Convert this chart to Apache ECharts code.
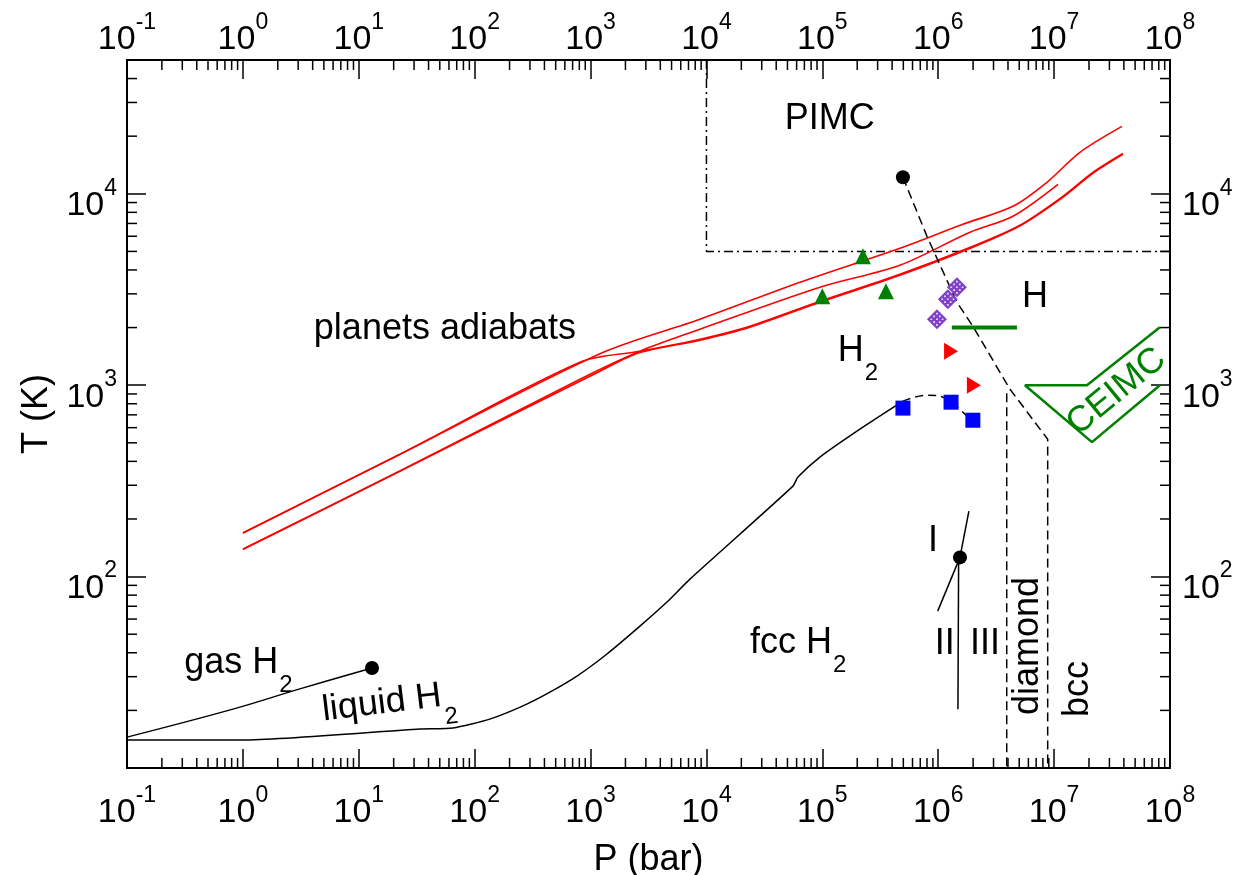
<!DOCTYPE html>
<html>
<head>
<meta charset="utf-8">
<script src="https://cdn.jsdelivr.net/npm/echarts@6/dist/echarts.min.js"></script>
<style>
html, body { margin: 0; padding: 0; background: #fff; }
#chart { width: 1237px; height: 875px; }
</style>
</head>
<body>
<div id="chart"></div>
<script>
// axis ranges
const pRange = [0.1, 1e8];
const tRange = [10, 5e4];
const decadesP = [-1, 0, 1, 2, 3, 4, 5, 6, 7];
const decadesT = [1, 2, 3, 4];
const minorSteps = [2, 3, 4, 5, 6, 7, 8, 9];

// planet adiabats (P bar, T K)
const adiabatA = [[1, 169], [22.7, 436], [1205, 1460], [8790, 2211], [64100, 3451], [467000, 5193], [1.63e6, 6930], [4.41e6, 8600], [8.67e6, 11480], [1.67e7, 16470], [3.85e7, 22500]];
const adiabatB = [[1, 169], [22.7, 436], [810, 1319], [2670, 1505], [8790, 1739], [23700, 2033], [95400, 2745], [467000, 3798], [1.99e6, 5319], [5.07e6, 6850], [1.19e7, 9700], [2.16e7, 12950], [3.92e7, 16270]];
const adiabatC = [[1, 139], [22.7, 356], [810, 1075], [2670, 1505], [8790, 1960], [95400, 3249], [467000, 4233], [1.88e6, 6295], [4.41e6, 7630], [1.08e7, 11210]];
const adiabatD = [[1, 139], [22.7, 356], [1205, 1183], [2670, 1480], [8790, 1718], [23700, 2009], [95400, 2713], [467000, 3753], [1.99e6, 5256], [5.07e6, 6800], [1.19e7, 9590], [2.16e7, 12800], [3.92e7, 16080]];

// phase boundaries
const meltingLine = [[0.1, 14.0], [1, 14.0], [33.7, 16.0], [65, 16.2], [135, 18.0], [261, 21.1], [446, 24.9], [763, 30.2], [1385, 39.4], [2668, 55.1], [4563, 73.6], [7203, 97], [55760, 297], [61580, 331], [95350, 421], [211000, 589], [496000, 825]];
const meltingGuess = [[496000, 825], [799000, 887], [1.19e6, 845], [2.16e6, 603]];
const gasLiquid = [[0.1, 14.5], [0.82, 20.3], [3.1, 25.9], [13, 33.3]];
const pimcBox = [[1e4, 5e4], [1e4, 5000], [1e8, 5000]];
const molecularAtomic = [[496000, 12200], [799000, 6000], [1.45e6, 2713], [1.99e6, 2033], [4.16e6, 953], [8.8e6, 522], [8.8e6, 10]];
const diamondLeft = [[3.9e6, 908], [3.9e6, 10]];
const lineI = [[1.54e6, 126], [1.84e6, 220]];
const lineII = [[1.54e6, 126], [9.9e5, 66]];
const lineIII = [[1.5e6, 126], [1.48e6, 20.3]];
const ceimcH = [[1.31e6, 2000], [4.78e6, 2000]];
const ceimcBox = [[8.18e7, 2009], [1.92e7, 1000], [5.6e6, 1000], [2.12e7, 504], [8.18e7, 1000]];

// markers
const criticalPoints = [[13, 33.3], [496000, 12200], [1.54e6, 126]];
const greenTriangles = [[1e5, 2916], [2.24e5, 4716], [3.54e5, 3096]];
const purpleDiamonds = [[9.75e5, 2211], [1.21e6, 2812], [1.45e6, 3249]];
const redTriangles = [[1.29e6, 1505], [2.03e6, 1000]];
const blueSquares = [[4.96e5, 759], [1.29e6, 815], [1.99e6, 656]];

// text notes
const noteTexts = ['PIMC', 'planets adiabats', 'H', 'H|2', 'gas H|2', 'liquid H|2', 'fcc H|2', 'I', 'II', 'III', 'diamond', 'bcc', 'CEIMC'];
const notePoints = [[1.16e5, 24480], [55.4, 1961], [6.83e6, 2870], [2.03e5, 1500], [0.916, 35.3], [18.2, 22], [6.2e4, 45], [9e5, 153], [1.14e6, 44.4], [2.53e6, 44.4], [5.94e6, 43.4], [1.6e7, 25.9], [3.45e7, 925]];
const noteAngles = [0, 0, 0, 0, 0, 7, 0, 0, 0, 0, 90, 90, 39.5];

const F = 'Liberation Sans, Arial, Helvetica, sans-serif';
const GREEN = '#008000';
const DOTS = 'path://M1.7,-0.3h0.6v0.6h-0.6z M0.7,0.7h0.6v0.6h-0.6z M2.7,0.7h0.6v0.6h-0.6z M-0.3,1.7h0.6v0.6h-0.6z M1.7,1.7h0.6v0.6h-0.6z M3.7,1.7h0.6v0.6h-0.6z M0.7,2.7h0.6v0.6h-0.6z M2.7,2.7h0.6v0.6h-0.6z M1.7,3.7h0.6v0.6h-0.6z';

const xMinor = [];
decadesP.forEach(d => minorSteps.forEach(m => xMinor.push(m * Math.pow(10, d))));
const yMinor = [];
decadesT.forEach(d => minorSteps.forEach(m => {
	const v = m * Math.pow(10, d);
	if (v < tRange[1]) yMinor.push(v);
}));

const powLabel = (hideMin) => (v) => {
	const e = Math.log10(v);
	const r = Math.round(e);
	if (Math.abs(e - r) > 1e-6) return '';
	if (hideMin && r === 1) return '';
	return '{b|10}{s|' + r + '}';
};
const powRich = {
	b: { fontSize: 34, fontFamily: F, color: '#000', lineHeight: 58 },
	s: { fontSize: 23, fontFamily: F, color: '#000', verticalAlign: 'top', lineHeight: 16 }
};

const axisCommon = {
	type: 'log',
	logBase: 10,
	axisLine: { show: true, onZero: false, lineStyle: { color: '#000', width: 2 } },
	axisTick: { show: true, inside: true, length: 19, interval: 0, lineStyle: { color: '#000', width: 1.5 } },
	splitLine: { show: false },
	minorTick: { show: false },
	minorSplitLine: { show: false }
};

const xAxisBase = Object.assign({}, axisCommon, { min: pRange[0], max: pRange[1], splitNumber: 9 });
const yAxisBase = Object.assign({}, axisCommon, { min: tRange[0], max: tRange[1], splitNumber: 4 });

const lineSeries = (data, color, width, type, smooth) => ({
	type: 'line',
	data: data,
	showSymbol: false,
	symbol: 'none',
	silent: true,
	smooth: smooth || false,
	z: 2,
	lineStyle: { color: color, width: width, type: type || 'solid' }
});

const chart = echarts.init(document.getElementById('chart'));

const noteData = noteTexts.map((t, i) => {
	const parts = t.split('|');
	const text = parts.length > 1 ? '{m|' + parts[0] + '}{s|' + parts[1] + '}' : '{m|' + t + '}';
	const isGreen = t === 'CEIMC';
	return {
		value: notePoints[i],
		label: {
			show: true,
			position: 'inside',
			formatter: text,
			rotate: noteAngles[i],
			rich: {
				m: { fontSize: 36, fontFamily: F, color: isGreen ? GREEN : '#000', lineHeight: 40 },
				s: { fontSize: 24, fontFamily: F, color: '#000', verticalAlign: 'bottom', lineHeight: 68, padding: [0, 0, 0, 1] }
			}
		}
	};
});

const tickSeries = (values, vertical) => ({
	type: 'custom',
	silent: true,
	z: 10,
	data: values.map(v => vertical ? [v, tRange[0]] : [pRange[0], v]),
	renderItem: (params, api) => {
		const v = api.value(vertical ? 0 : 1);
		const style = { stroke: '#000', lineWidth: 1.5 };
		if (vertical) {
			const b = api.coord([v, tRange[0]]);
			const t = api.coord([v, tRange[1]]);
			return { type: 'group', children: [
				{ type: 'line', shape: { x1: b[0], y1: b[1], x2: b[0], y2: b[1] - 10 }, style: style },
				{ type: 'line', shape: { x1: t[0], y1: t[1], x2: t[0], y2: t[1] + 10 }, style: style }
			] };
		}
		const l = api.coord([pRange[0], v]);
		const r = api.coord([pRange[1], v]);
		return { type: 'group', children: [
			{ type: 'line', shape: { x1: l[0], y1: l[1], x2: l[0] + 10, y2: l[1] }, style: style },
			{ type: 'line', shape: { x1: r[0], y1: r[1], x2: r[0] - 10, y2: r[1] }, style: style }
		] };
	}
});

const option = {
	animation: false,
	backgroundColor: '#fff',
	grid: { left: 127, top: 60, width: 1043, height: 708, containLabel: false, outerBoundsMode: 'none' },
	xAxis: [
		Object.assign({}, xAxisBase, {
			position: 'bottom',
			name: 'P (bar)',
			nameLocation: 'middle',
			nameGap: 74,
			nameTextStyle: { fontSize: 36, fontFamily: F, color: '#000' },
			axisLabel: { interval: 0, margin: 16, formatter: powLabel(false), rich: powRich }
		}),
		Object.assign({}, xAxisBase, {
			position: 'top',
			axisLabel: { interval: 0, margin: -9, formatter: powLabel(false), rich: powRich }
		})
	],
	yAxis: [
		Object.assign({}, yAxisBase, {
			position: 'left',
			name: 'T (K)',
			nameLocation: 'middle',
			nameGap: 72,
			nameTextStyle: { fontSize: 36, fontFamily: F, color: '#000' },
			axisLabel: { interval: 0, margin: 10, padding: [24, 0, 0, 0], formatter: powLabel(true), rich: powRich }
		}),
		Object.assign({}, yAxisBase, {
			position: 'right',
			axisLabel: { interval: 0, margin: 12, padding: [24, 0, 0, 0], formatter: powLabel(true), rich: powRich }
		})
	],
	series: [
		lineSeries(pimcBox, '#000', 1.5, [9, 4, 2, 4]),
		lineSeries(adiabatA, '#ff0000', 1.6, null, 0.3),
		lineSeries(adiabatB, '#ff0000', 1.6, null, 0.3),
		lineSeries(adiabatC, '#ff0000', 1.6, null, 0.3),
		lineSeries(adiabatD, '#ff0000', 1.6, null, 0.3),
		lineSeries(meltingLine, '#000', 1.5, null, 0.2),
		lineSeries(meltingGuess, '#000', 1.5, [8, 5], 0.4),
		lineSeries(gasLiquid, '#000', 1.5, null, 0.4),
		lineSeries(molecularAtomic, '#000', 1.5, [9, 5]),
		lineSeries(diamondLeft, '#000', 1.5, [9, 5]),
		lineSeries(lineI, '#000', 1.5),
		lineSeries(lineII, '#000', 1.5),
		lineSeries(lineIII, '#000', 1.5),
		lineSeries(ceimcH, GREEN, 4),
		lineSeries(ceimcBox, GREEN, 2.5),
		{
			type: 'scatter', data: greenTriangles, symbol: 'triangle', symbolSize: 16, z: 5,
			itemStyle: { color: GREEN, opacity: 1 }
		},
		{
			type: 'scatter', data: purpleDiamonds, symbol: 'diamond', symbolSize: 20, z: 5,
			itemStyle: { color: '#8040c8', opacity: 1 }
		},
		{
			type: 'scatter', data: purpleDiamonds, symbol: DOTS, symbolSize: 13, z: 6, silent: true,
			itemStyle: { color: '#ffffff', opacity: 0.85 }
		},
		{
			type: 'scatter', data: redTriangles, symbol: 'triangle', symbolSize: [17, 14], symbolRotate: -90, z: 5,
			itemStyle: { color: '#ff0000', opacity: 1 }
		},
		{
			type: 'scatter', data: blueSquares, symbol: 'rect', symbolSize: 15, z: 5,
			itemStyle: { color: '#0000ff', opacity: 1 }
		},
		{
			type: 'scatter', data: criticalPoints, symbol: 'circle', symbolSize: 14, z: 6,
			itemStyle: { color: '#000', opacity: 1 }
		},
		{
			type: 'scatter', data: noteData, symbolSize: 0, z: 8, silent: true,
			itemStyle: { color: 'transparent', opacity: 1 }
		},
		tickSeries(xMinor, true),
		tickSeries(yMinor, false)
	]
};

chart.setOption(option);
</script>
</body>
</html>
